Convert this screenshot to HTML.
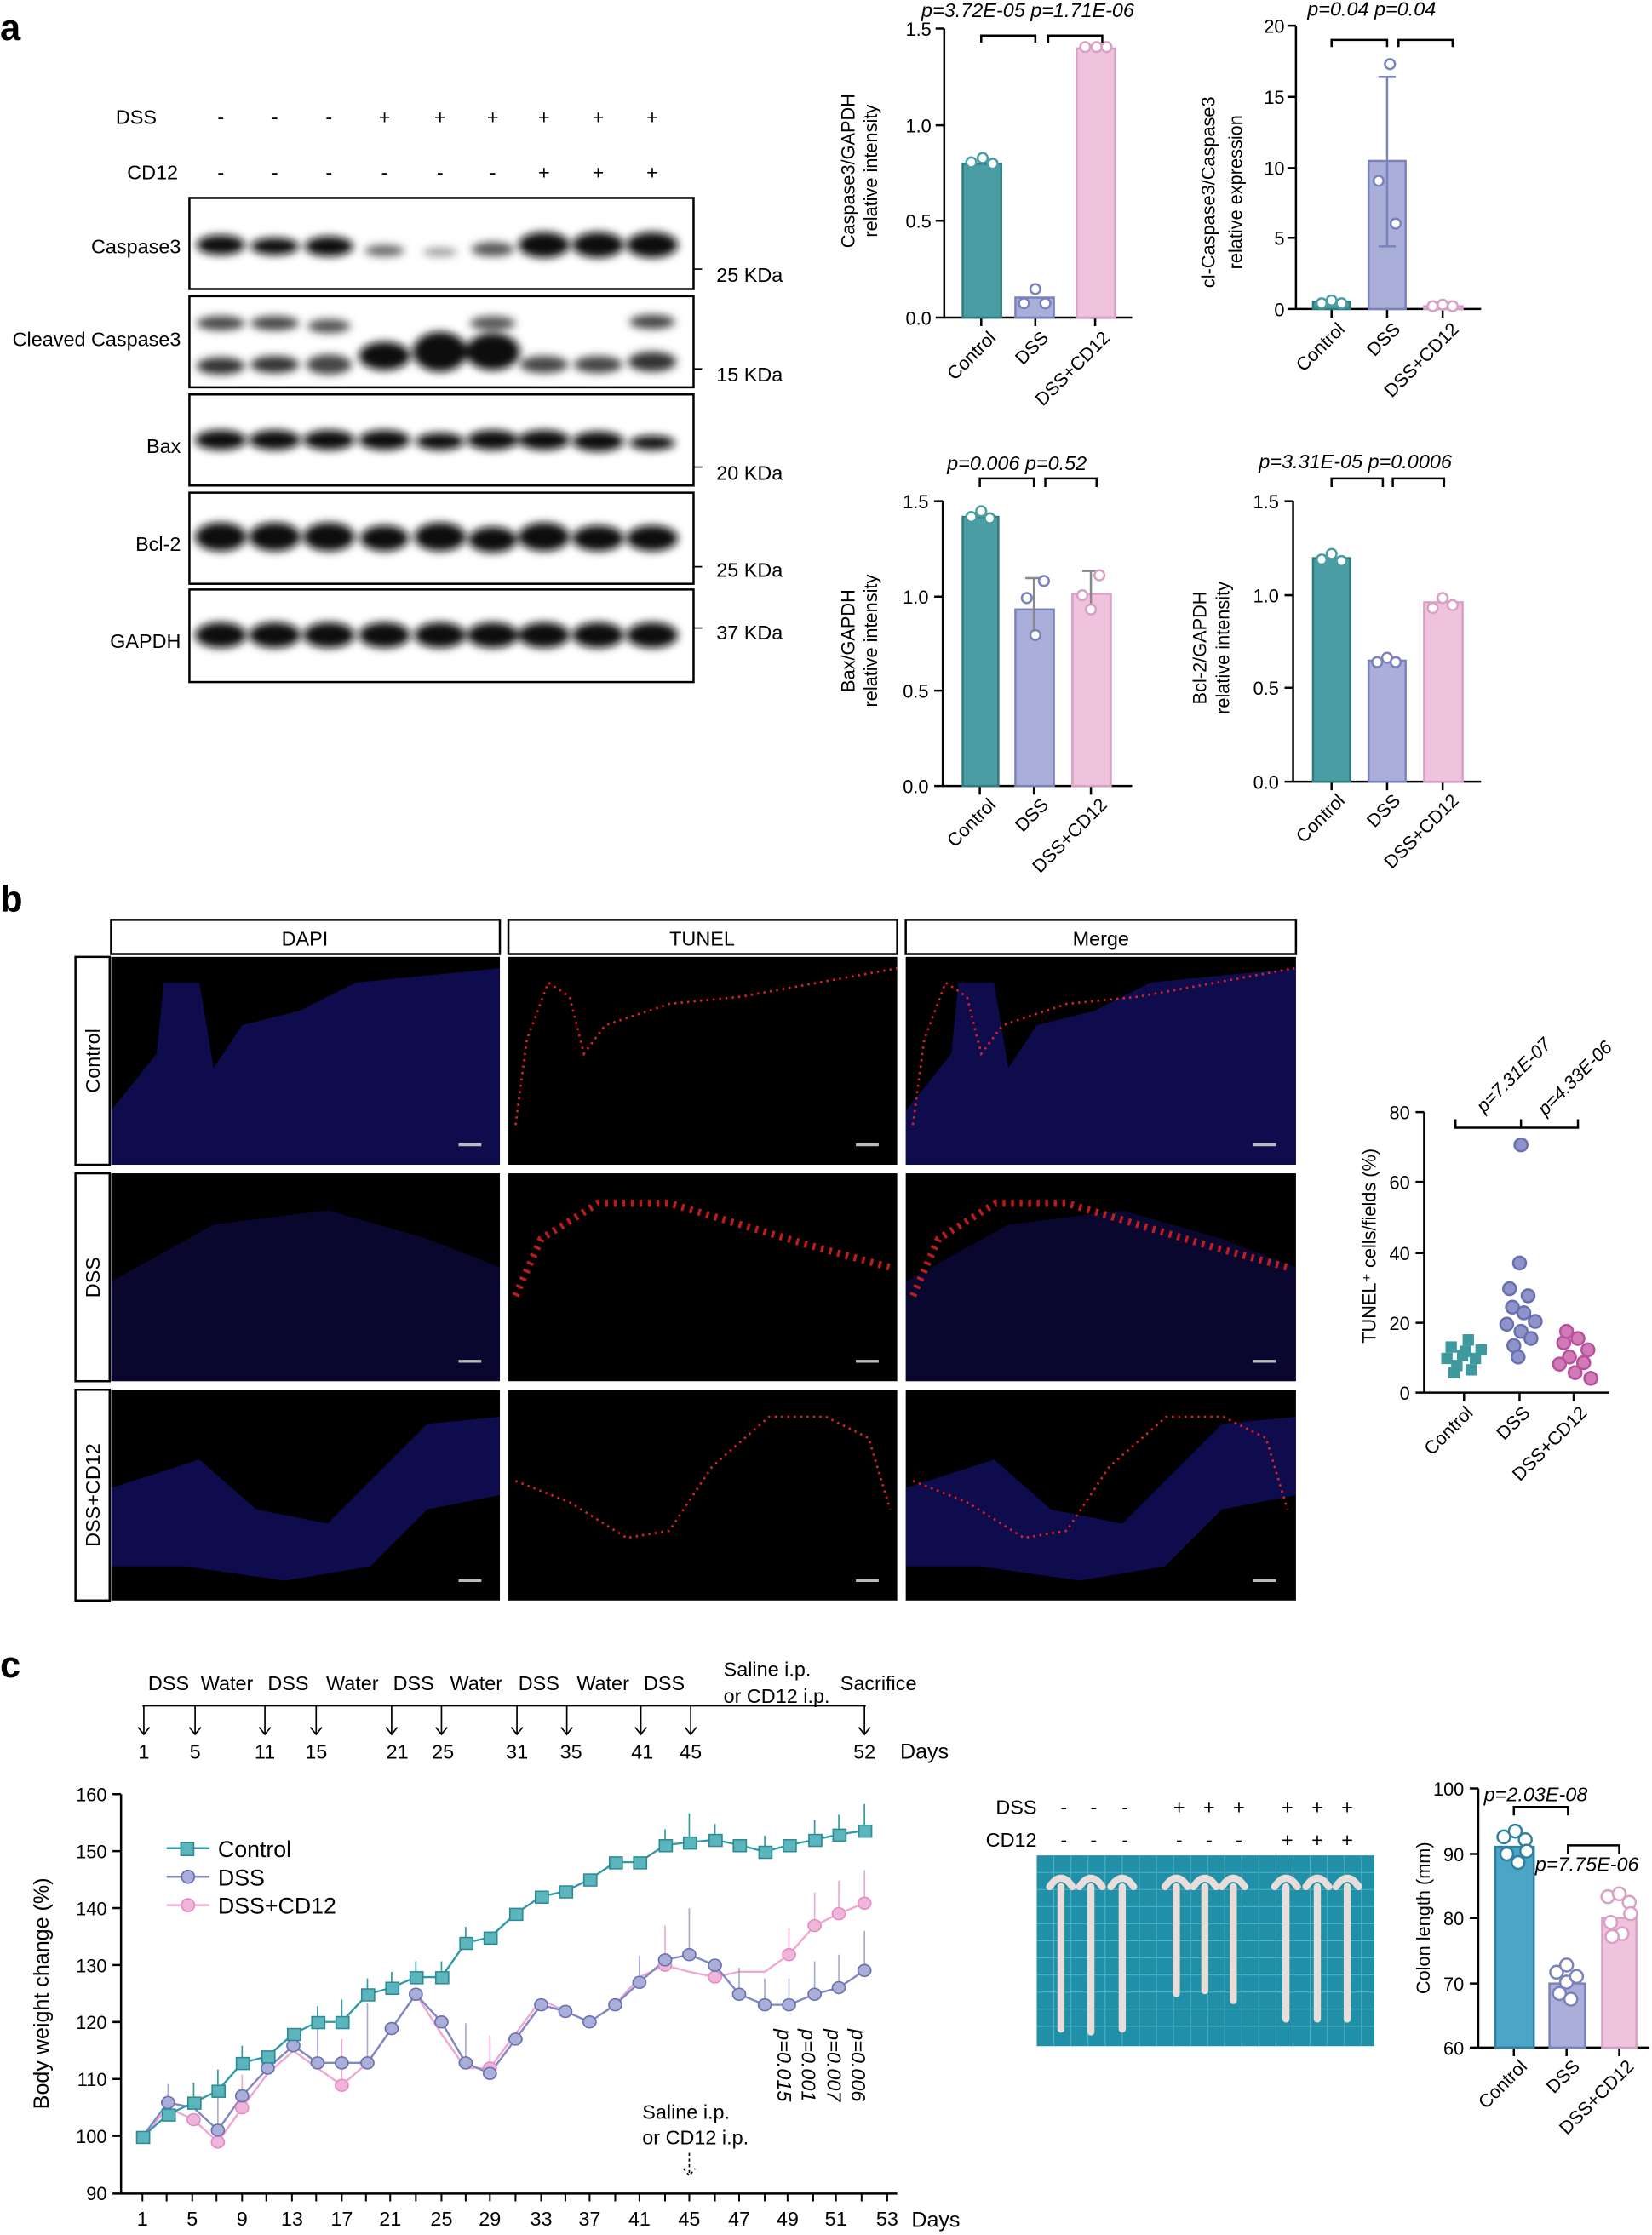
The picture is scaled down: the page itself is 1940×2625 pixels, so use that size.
<!DOCTYPE html><html><head><meta charset="utf-8"><style>body{margin:0;background:#fff}svg{display:block}text{font-family:"Liberation Sans",sans-serif}</style></head><body>
<svg width="1940" height="2625" viewBox="0 0 1160 1569.6" preserveAspectRatio="none" xmlns="http://www.w3.org/2000/svg">
<defs>
<filter id="bl"><feGaussianBlur stdDeviation="3"/></filter>
</defs>
<rect width="1160" height="1570" fill="#fff"/>
<text x="0" y="28" font-size="26" font-weight="bold">a</text>
<text x="0" y="640" font-size="26" font-weight="bold">b</text>
<text x="0" y="1178" font-size="26" font-weight="bold">c</text>
<!-- blot header -->
<g font-size="14" text-anchor="middle">
<text x="110" y="87" text-anchor="end">DSS</text><text x="125" y="126" text-anchor="end">CD12</text>
<text x="155" y="87">-</text><text x="193" y="87">-</text><text x="231" y="87">-</text><text x="270" y="87">+</text><text x="309" y="87">+</text><text x="346" y="87">+</text><text x="382" y="87">+</text><text x="420" y="87">+</text><text x="458" y="87">+</text>
<text x="155" y="126">-</text><text x="193" y="126">-</text><text x="231" y="126">-</text><text x="270" y="126">-</text><text x="309" y="126">-</text><text x="346" y="126">-</text><text x="382" y="126">+</text><text x="420" y="126">+</text><text x="458" y="126">+</text>
</g>
<g fill="none" stroke="#000" stroke-width="1.5">
<rect x="133" y="139" width="354" height="64"/><rect x="133" y="208" width="354" height="64"/><rect x="133" y="277" width="354" height="64"/><rect x="133" y="346" width="354" height="64"/><rect x="133" y="414" width="354" height="65"/>
</g>
<g font-size="14" text-anchor="end">
<text x="127" y="178">Caspase3</text><text x="127" y="243">Cleaved Caspase3</text><text x="127" y="318">Bax</text><text x="127" y="387">Bcl-2</text><text x="127" y="455">GAPDH</text>
</g>
<g font-size="14"><text x="503" y="198">25 KDa</text><text x="503" y="268">15 KDa</text><text x="503" y="337">20 KDa</text><text x="503" y="405">25 KDa</text><text x="503" y="449">37 KDa</text></g>
<g stroke="#000" stroke-width="1"><path d="M487 189h6M487 259h6M487 328h6M487 398h6M487 441h6"/></g>
<g filter="url(#bl)" fill="#111">
<ellipse cx="155" cy="172" rx="17" ry="7"/><ellipse cx="193" cy="173" rx="17" ry="6"/><ellipse cx="231" cy="173" rx="17" ry="7"/><ellipse cx="270" cy="176" rx="14" ry="4" fill="#666"/><ellipse cx="309" cy="177" rx="12" ry="3" fill="#999"/><ellipse cx="346" cy="175" rx="15" ry="5" fill="#555"/><ellipse cx="382" cy="172" rx="18" ry="9"/><ellipse cx="420" cy="172" rx="18" ry="9"/><ellipse cx="458" cy="172" rx="18" ry="9"/>
<ellipse cx="155" cy="227" rx="17" ry="5" fill="#444"/><ellipse cx="193" cy="227" rx="17" ry="5" fill="#444"/><ellipse cx="231" cy="229" rx="15" ry="5" fill="#555"/><ellipse cx="346" cy="227" rx="16" ry="5" fill="#555"/><ellipse cx="458" cy="226" rx="16" ry="5" fill="#444"/>
<ellipse cx="155" cy="257" rx="17" ry="6" fill="#333"/><ellipse cx="193" cy="256" rx="17" ry="6" fill="#333"/><ellipse cx="231" cy="256" rx="16" ry="7" fill="#444"/><ellipse cx="270" cy="250" rx="18" ry="10"/><ellipse cx="309" cy="247" rx="19" ry="14"/><ellipse cx="346" cy="247" rx="19" ry="13"/><ellipse cx="382" cy="256" rx="17" ry="6" fill="#444"/><ellipse cx="420" cy="256" rx="17" ry="6" fill="#444"/><ellipse cx="458" cy="254" rx="17" ry="7" fill="#333"/>
<ellipse cx="155" cy="309" rx="18" ry="7"/><ellipse cx="193" cy="309" rx="18" ry="7"/><ellipse cx="231" cy="309" rx="18" ry="7"/><ellipse cx="270" cy="309" rx="18" ry="7"/><ellipse cx="309" cy="310" rx="17" ry="6"/><ellipse cx="346" cy="309" rx="18" ry="7"/><ellipse cx="382" cy="309" rx="18" ry="7"/><ellipse cx="420" cy="310" rx="18" ry="7"/><ellipse cx="458" cy="311" rx="16" ry="5"/>
<ellipse cx="155" cy="377" rx="18" ry="10"/><ellipse cx="193" cy="377" rx="18" ry="10"/><ellipse cx="231" cy="377" rx="18" ry="10"/><ellipse cx="270" cy="378" rx="17" ry="9"/><ellipse cx="309" cy="377" rx="18" ry="10"/><ellipse cx="346" cy="379" rx="17" ry="9"/><ellipse cx="382" cy="377" rx="18" ry="10"/><ellipse cx="420" cy="378" rx="18" ry="9"/><ellipse cx="458" cy="378" rx="18" ry="9"/>
<ellipse cx="155" cy="446" rx="18" ry="9"/><ellipse cx="193" cy="446" rx="18" ry="9"/><ellipse cx="231" cy="446" rx="18" ry="9"/><ellipse cx="270" cy="446" rx="18" ry="9"/><ellipse cx="309" cy="446" rx="18" ry="9"/><ellipse cx="346" cy="446" rx="18" ry="9"/><ellipse cx="382" cy="446" rx="18" ry="9"/><ellipse cx="420" cy="446" rx="18" ry="9"/><ellipse cx="458" cy="446" rx="18" ry="9"/>
</g>
<!-- bar chart 1 -->
<g font-size="13" stroke-width="1.5">
<g stroke="#000" fill="none"><path d="M663 20V223M657 20h6M657 88h6M657 155h6M657 223h6M663 223H795M689 223v6M727 223v6M769 223v6"/></g>
<g text-anchor="end"><text x="654" y="25">1.5</text><text x="654" y="93">1.0</text><text x="654" y="160">0.5</text><text x="654" y="228">0.0</text></g>
<rect x="676" y="115" width="27" height="108" fill="#4a9ea3" stroke="#2f7c80"/><rect x="713" y="209" width="27" height="14" fill="#a9afd8" stroke="#7a82bd"/><rect x="756" y="34" width="27" height="189" fill="#efc3de" stroke="#d9a0c5"/>
<g fill="#fff" stroke="#4a9ea3"><circle cx="682" cy="114" r="3.5"/><circle cx="690" cy="111" r="3.5"/><circle cx="697" cy="115" r="3.5"/></g>
<g fill="#fff" stroke="#7a82bd"><circle cx="719" cy="213" r="3.5"/><circle cx="727" cy="203" r="3.5"/><circle cx="734" cy="213" r="3.5"/></g>
<g fill="#fff" stroke="#d9a0c5"><circle cx="762" cy="33" r="3.5"/><circle cx="770" cy="33" r="3.5"/><circle cx="777" cy="33" r="3.5"/></g>
<path d="M689 30v-5h38v5M736 30v-5h38v5" stroke="#000" fill="none"/>
<text x="647" y="12" font-style="italic" font-size="14">p=3.72E-05 p=1.71E-06</text>
<text transform="translate(600 120) rotate(-90)" text-anchor="middle">Caspase3/GAPDH</text><text transform="translate(616 120) rotate(-90)" text-anchor="middle">relative intensity</text>
<g text-anchor="end"><text transform="translate(700 238) rotate(-45)">Control</text><text transform="translate(737 238) rotate(-45)">DSS</text><text transform="translate(780 238) rotate(-45)">DSS+CD12</text></g>
</g>
<!-- bar chart 2 -->
<g font-size="13" stroke-width="1.5">
<path d="M910 18V217M904 18h6M904 68h6M904 118h6M904 167h6M904 217h6M910 217H1040M935 217v6M974 217v6M1013 217v6" stroke="#000" fill="none"/>
<g text-anchor="end"><text x="902" y="23">20</text><text x="902" y="73">15</text><text x="902" y="123">10</text><text x="902" y="172">5</text><text x="902" y="222">0</text></g>
<rect x="922" y="212" width="26" height="5" fill="#4a9ea3" stroke="#2f7c80"/><rect x="961" y="113" width="26" height="104" fill="#a9afd8" stroke="#7a82bd"/><rect x="1000" y="215" width="27" height="2" fill="#efc3de" stroke="#d9a0c5"/>
<path d="M974 54v119M968 54h12M968 173h12" stroke="#7a82bd" fill="none"/>
<g fill="#fff" stroke="#4a9ea3"><circle cx="928" cy="213" r="3.5"/><circle cx="935" cy="211" r="3.5"/><circle cx="942" cy="213" r="3.5"/></g>
<g fill="#fff" stroke="#7a82bd"><circle cx="976" cy="45" r="3.5"/><circle cx="968" cy="127" r="3.5"/><circle cx="980" cy="157" r="3.5"/></g>
<g fill="#fff" stroke="#d9a0c5"><circle cx="1006" cy="215" r="3.5"/><circle cx="1013" cy="214" r="3.5"/><circle cx="1020" cy="215" r="3.5"/></g>
<path d="M935 33v-5h39v5M982 33v-5h38v5" stroke="#000" fill="none"/>
<text x="918" y="11" font-style="italic" font-size="14">p=0.04  p=0.04</text>
<text transform="translate(853 135) rotate(-90)" text-anchor="middle">cl-Caspase3/Caspase3</text><text transform="translate(872 135) rotate(-90)" text-anchor="middle">relative expression</text>
<g text-anchor="end"><text transform="translate(945 232) rotate(-45)">Control</text><text transform="translate(984 232) rotate(-45)">DSS</text><text transform="translate(1025 232) rotate(-45)">DSS+CD12</text></g>
</g>
<!-- bar chart 3 -->
<g font-size="13" stroke-width="1.5">
<path d="M662 352V552M656 352h6M656 419h6M656 485h6M656 552h6M662 552H795M688 552v6M726 552v6M766 552v6" stroke="#000" fill="none"/>
<g text-anchor="end"><text x="652" y="357">1.5</text><text x="652" y="424">1.0</text><text x="652" y="490">0.5</text><text x="652" y="557">0.0</text></g>
<rect x="676" y="363" width="25" height="189" fill="#4a9ea3" stroke="#2f7c80"/><rect x="713" y="428" width="27" height="124" fill="#a9afd8" stroke="#7a82bd"/><rect x="753" y="417" width="27" height="135" fill="#efc3de" stroke="#d9a0c5"/>
<path d="M726 406v44M720 406h12M766 401v30M760 401h12" stroke="#888" fill="none"/>
<g fill="#fff" stroke="#4a9ea3"><circle cx="682" cy="363" r="3.5"/><circle cx="689" cy="359" r="3.5"/><circle cx="695" cy="364" r="3.5"/></g>
<g fill="#fff" stroke="#7a82bd"><circle cx="721" cy="420" r="3.5"/><circle cx="727" cy="446" r="3.5"/><circle cx="733" cy="408" r="3.5"/></g>
<g fill="#fff" stroke="#d9a0c5"><circle cx="760" cy="418" r="3.5"/><circle cx="766" cy="428" r="3.5"/><circle cx="772" cy="404" r="3.5"/></g>
<path d="M688 342v-6h38v6M734 342v-6h36v6" stroke="#000" fill="none"/>
<text x="665" y="330" font-style="italic" font-size="14">p=0.006 p=0.52</text>
<text transform="translate(600 450) rotate(-90)" text-anchor="middle">Bax/GAPDH</text><text transform="translate(616 450) rotate(-90)" text-anchor="middle">relative intensity</text>
<g text-anchor="end"><text transform="translate(700 566) rotate(-45)">Control</text><text transform="translate(737 566) rotate(-45)">DSS</text><text transform="translate(778 566) rotate(-45)">DSS+CD12</text></g>
</g>
<!-- bar chart 4 -->
<g font-size="13" stroke-width="1.5">
<path d="M908 352V549M902 352h6M902 418h6M902 483h6M902 549h6M908 549H1040M935 549v6M974 549v6M1013 549v6" stroke="#000" fill="none"/>
<g text-anchor="end"><text x="898" y="357">1.5</text><text x="898" y="423">1.0</text><text x="898" y="488">0.5</text><text x="898" y="554">0.0</text></g>
<rect x="922" y="392" width="26" height="157" fill="#4a9ea3" stroke="#2f7c80"/><rect x="961" y="464" width="26" height="85" fill="#a9afd8" stroke="#7a82bd"/><rect x="1000" y="423" width="27" height="126" fill="#efc3de" stroke="#d9a0c5"/>
<g fill="#fff" stroke="#4a9ea3"><circle cx="928" cy="393" r="3.5"/><circle cx="935" cy="389" r="3.5"/><circle cx="942" cy="394" r="3.5"/></g>
<g fill="#fff" stroke="#7a82bd"><circle cx="967" cy="465" r="3.5"/><circle cx="974" cy="462" r="3.5"/><circle cx="980" cy="465" r="3.5"/></g>
<g fill="#fff" stroke="#d9a0c5"><circle cx="1006" cy="427" r="3.5"/><circle cx="1013" cy="420" r="3.5"/><circle cx="1020" cy="425" r="3.5"/></g>
<path d="M935 342v-6h36v6M978 342v-6h36v6" stroke="#000" fill="none"/>
<text x="884" y="329" font-style="italic" font-size="14">p=3.31E-05 p=0.0006</text>
<text transform="translate(847 455) rotate(-90)" text-anchor="middle">Bcl-2/GAPDH</text><text transform="translate(863 455) rotate(-90)" text-anchor="middle">relative intensity</text>
<g text-anchor="end"><text transform="translate(945 563) rotate(-45)">Control</text><text transform="translate(984 563) rotate(-45)">DSS</text><text transform="translate(1025 563) rotate(-45)">DSS+CD12</text></g>
</g>
<!-- panel b images -->
<g fill="none" stroke="#000" stroke-width="1.5"><rect x="78" y="646" width="273" height="24"/><rect x="357" y="646" width="273" height="24"/><rect x="636" y="646" width="274" height="24"/>
<rect x="53" y="672" width="24" height="146"/><rect x="53" y="824" width="24" height="146"/><rect x="53" y="976" width="24" height="148"/></g>
<g font-size="14" text-anchor="middle"><text x="214" y="664">DAPI</text><text x="493" y="664">TUNEL</text><text x="773" y="664">Merge</text>
<text transform="translate(70 745) rotate(-90)">Control</text><text transform="translate(70 897) rotate(-90)">DSS</text><text transform="translate(70 1050) rotate(-90)">DSS+CD12</text></g>
<g fill="#000"><rect x="78" y="672" width="273" height="146"/><rect x="357" y="672" width="273" height="146"/><rect x="636" y="672" width="274" height="146"/>
<rect x="78" y="824" width="273" height="146"/><rect x="357" y="824" width="273" height="146"/><rect x="636" y="824" width="274" height="146"/>
<rect x="78" y="976" width="273" height="148"/><rect x="357" y="976" width="273" height="148"/><rect x="636" y="976" width="274" height="148"/></g>
<g fill="#1a1580" opacity="0.6">
<path d="M78 818V780L110 740 115 690 140 690 150 750 170 720 210 710 250 690 351 680V818Z"/>
<path d="M636 818V780L668 740 673 690 698 690 708 750 728 720 768 710 808 690 910 680V818Z"/>
<path d="M78 970V900L150 860 230 850 300 870 351 890V970Z" opacity="0.6"/>
<path d="M636 970V900L708 860 788 850 858 870 910 890V970Z" opacity="0.6"/>
<path d="M78 1100L78 1045 140 1025 180 1060 230 1070 270 1030 300 1000 351 995V1050L300 1060 260 1100 200 1110 130 1100Z"/>
<path d="M636 1100L636 1045 698 1025 738 1060 788 1070 828 1030 858 1000 910 995V1050L858 1060 818 1100 758 1110 688 1100Z"/>
</g>
<g stroke="#e02020" stroke-width="1.6" fill="none" stroke-dasharray="1.5 3">
<path d="M362 790L370 730 385 690 400 700 410 740 425 720 470 705 520 700 630 680"/>
<path d="M641 790L649 730 664 690 679 700 689 740 704 720 749 705 799 700 909 680"/>
<path d="M362 1040L400 1055 440 1080 470 1075 500 1030 540 995 580 995 610 1010 625 1060"/>
<path d="M641 1040L679 1055 719 1080 749 1075 779 1030 819 995 859 995 889 1010 904 1060"/>
</g>
<g stroke="#e02020" stroke-width="5" fill="none" stroke-dasharray="2 4" opacity="0.85">
<path d="M362 910L380 870 420 845 470 845 520 860 570 875 625 890"/>
<path d="M641 910L659 870 699 845 749 845 799 860 849 875 904 890"/>
</g>
<g stroke="#bbb" stroke-width="2"><path d="M322 804h16M601 804h16M880 804h16M322 956h16M601 956h16M880 956h16M322 1110h16M601 1110h16M880 1110h16"/></g>
<!-- scatter -->
<g font-size="13" stroke-width="1.5">
<path d="M1000 781V978M994 781h6M994 830h6M994 880h6M994 929h6M994 978h6M1000 978H1130M1028 978v6M1067 978v6M1105 978v6" stroke="#000" fill="none"/>
<g text-anchor="end"><text x="990" y="786">80</text><text x="990" y="835">60</text><text x="990" y="885">40</text><text x="990" y="934">20</text><text x="990" y="983">0</text></g>
<text transform="translate(966 875) rotate(-90)" text-anchor="middle">TUNEL⁺ cells/fields (%)</text>
<g fill="#3f9aa0"><rect x="1015" y="942" width="8" height="8"/><rect x="1025" y="945" width="8" height="8"/><rect x="1032" y="950" width="8" height="8"/><rect x="1019" y="955" width="8" height="8"/><rect x="1029" y="958" width="8" height="8"/><rect x="1023" y="948" width="8" height="8"/><rect x="1036" y="944" width="8" height="8"/><rect x="1017" y="960" width="8" height="8"/><rect x="1027" y="937" width="8" height="8"/><rect x="1012" y="950" width="8" height="8"/></g>
<g fill="#8e93c9" stroke="#6870b0"><circle cx="1068" cy="804" r="4.5"/><circle cx="1067" cy="887" r="4.5"/><circle cx="1060" cy="905" r="4.5"/><circle cx="1073" cy="910" r="4.5"/><circle cx="1062" cy="918" r="4.5"/><circle cx="1070" cy="922" r="4.5"/><circle cx="1078" cy="928" r="4.5"/><circle cx="1058" cy="930" r="4.5"/><circle cx="1068" cy="935" r="4.5"/><circle cx="1063" cy="945" r="4.5"/><circle cx="1075" cy="940" r="4.5"/><circle cx="1066" cy="953" r="4.5"/></g>
<g fill="#d07ab8" stroke="#b8509c"><circle cx="1098" cy="943" r="4.5"/><circle cx="1108" cy="940" r="4.5"/><circle cx="1115" cy="948" r="4.5"/><circle cx="1102" cy="953" r="4.5"/><circle cx="1112" cy="957" r="4.5"/><circle cx="1095" cy="958" r="4.5"/><circle cx="1106" cy="964" r="4.5"/><circle cx="1117" cy="968" r="4.5"/><circle cx="1100" cy="935" r="4.5"/></g>
<path d="M1022 786v6h46v-6M1068 786v6h40v-6" stroke="#000" fill="none"/>
<text transform="translate(1042 782) rotate(-45)" font-style="italic" font-size="13">p=7.31E-07</text>
<text transform="translate(1085 784) rotate(-45)" font-style="italic" font-size="13">p=4.33E-06</text>
<g text-anchor="end"><text transform="translate(1035 993) rotate(-45)">Control</text><text transform="translate(1075 993) rotate(-45)">DSS</text><text transform="translate(1115 993) rotate(-45)">DSS+CD12</text></g>
</g>
<!-- panel c timeline -->
<g font-size="14">
<path d="M100 1198H608" stroke="#000" stroke-width="1"/>
<g stroke="#000" fill="none"><path d="M101 1198v20M97 1213l4 5 4-5M137 1198v20M133 1213l4 5 4-5M186 1198v20M182 1213l4 5 4-5M222 1198v20M218 1213l4 5 4-5M275 1198v20M271 1213l4 5 4-5M310 1198v20M306 1213l4 5 4-5M363 1198v20M359 1213l4 5 4-5M398 1198v20M394 1213l4 5 4-5M450 1198v20M446 1213l4 5 4-5M485 1198v20M481 1213l4 5 4-5M607 1198v20M603 1213l4 5 4-5"/></g>
<g><text x="104" y="1187">DSS</text><text x="141" y="1187">Water</text><text x="188" y="1187">DSS</text><text x="229" y="1187">Water</text><text x="276" y="1187">DSS</text><text x="316" y="1187">Water</text><text x="364" y="1187">DSS</text><text x="405" y="1187">Water</text><text x="452" y="1187">DSS</text></g>
<text x="508" y="1177">Saline i.p.</text><text x="508" y="1196">or CD12 i.p.</text><text x="590" y="1187">Sacrifice</text>
<g text-anchor="middle"><text x="101" y="1235">1</text><text x="137" y="1235">5</text><text x="186" y="1235">11</text><text x="222" y="1235">15</text><text x="279" y="1235">21</text><text x="311" y="1235">25</text><text x="363" y="1235">31</text><text x="401" y="1235">35</text><text x="451" y="1235">41</text><text x="485" y="1235">45</text><text x="607" y="1235">52</text></g>
<text x="632" y="1235" font-size="15">Days</text>
</g>
<!-- line chart -->
<g font-size="13">
<path d="M85 1260V1540.5M79 1260h6M79 1300h6M79 1340h6M79 1380h6M79 1420h6M79 1460h6M79 1500h6M79 1540.5h6M85 1540.5H630" stroke="#000" stroke-width="1.5" fill="none"/>
<path d="M100 1540v6M117 1540v6M135 1540v6M152 1540v6M170 1540v6M187 1540v6M205 1540v6M222 1540v6M240 1540v6M257 1540v6M274 1540v6M292 1540v6M310 1540v6M327 1540v6M344 1540v6M362 1540v6M380 1540v6M397 1540v6M414 1540v6M432 1540v6M449 1540v6M467 1540v6M484 1540v6M502 1540v6M519 1540v6M537 1540v6M553 1540v6M571 1540v6M587 1540v6M605 1540v6M623 1540v6" stroke="#000" stroke-width="1.2"/>
<g text-anchor="end"><text x="75" y="1265">160</text><text x="75" y="1305">150</text><text x="75" y="1345">140</text><text x="75" y="1385">130</text><text x="75" y="1425">120</text><text x="75" y="1465">110</text><text x="75" y="1505">100</text><text x="75" y="1545">90</text></g>
<text transform="translate(34 1400) rotate(-90)" text-anchor="middle" font-size="15">Body weight change (%)</text>
<g text-anchor="middle" font-size="14"><text x="100" y="1563">1</text><text x="135" y="1563">5</text><text x="170" y="1563">9</text><text x="205" y="1563">13</text><text x="240" y="1563">17</text><text x="274" y="1563">21</text><text x="310" y="1563">25</text><text x="344" y="1563">29</text><text x="380" y="1563">33</text><text x="414" y="1563">37</text><text x="449" y="1563">41</text><text x="484" y="1563">45</text><text x="519" y="1563">47</text><text x="553" y="1563">49</text><text x="587" y="1563">51</text><text x="623" y="1563">53</text></g>
<text x="640" y="1564" font-size="15">Days</text>
<g transform="matrix(1 0 0 0.9272 0 91.3)">
<g fill="none" stroke-width="1.5">
<polyline stroke="#f0a8d3" points="100,1520 118,1498 136,1507 153,1524 170,1498 188,1472 206,1455 223,1468 240,1481 258,1464 275,1438 292,1412 310,1442 327,1468 344,1468 362,1442 380,1416 397,1425 414,1433 432,1420 449,1399 467,1390 484,1395 502,1399 519,1395 537,1395 554,1382 572,1360 589,1351 607,1343"/>
<polyline stroke="#8087c4" points="100,1520 118,1494 136,1498 153,1515 170,1489 188,1468 206,1451 223,1464 240,1464 258,1464 275,1438 292,1412 310,1433 327,1464 344,1472 362,1446 380,1420 397,1425 414,1433 432,1420 449,1403 467,1386 484,1382 502,1390 519,1412 537,1420 554,1420 572,1412 589,1407 607,1394"/>
<polyline stroke="#2f9aa6" points="100,1520 118,1503 136,1494 153,1485 170,1464 188,1459 206,1442 223,1433 240,1433 258,1412 275,1407 292,1399 310,1399 327,1373 344,1369 362,1351 380,1338 397,1334 414,1325 432,1312 449,1312 467,1299 484,1297 502,1295 519,1299 537,1304 554,1299 572,1295 589,1291 607,1288"/>
</g>
<g stroke="#8087c4" fill="none" opacity="0.7"><path d="M118 1494v-14M153 1515v-35M223 1464v-40M258 1464v-45M327 1464v-30M344 1472v-25M449 1403v-20M484 1382v-35M519 1412v-20M537 1420v-20M554 1420v-20M572 1412v-25M589 1407v-25M607 1394v-30"/></g>
<g stroke="#f0a8d3" fill="none"><path d="M170 1498v-25M240 1481v-35M344 1468v-25M467 1390v-30M554 1382v-20M572 1360v-25M589 1351v-25M607 1343v-25"/></g>
<g stroke="#2f9aa6" fill="none"><path d="M118 1503v-14M136 1494v-15M153 1485v-16M170 1464v-13M223 1433v-12M240 1433v-17M258 1412v-12M275 1407v-12M292 1399v-12M310 1399v-12M327 1373v-12M467 1299v-12M484 1297v-22M502 1295v-12M537 1304v-12M572 1295v-15M589 1291v-15M607 1288v-20"/></g>
<g fill="#f0b5da" stroke="#e38cc0"><circle cx="136" cy="1507" r="4.5"/><circle cx="153" cy="1524" r="4.5"/><circle cx="170" cy="1498" r="4.5"/><circle cx="240" cy="1481" r="4.5"/><circle cx="344" cy="1468" r="4.5"/><circle cx="554" cy="1382" r="4.5"/><circle cx="572" cy="1360" r="4.5"/><circle cx="589" cy="1351" r="4.5"/><circle cx="607" cy="1343" r="4.5"/><circle cx="502" cy="1399" r="4.5"/><circle cx="467" cy="1390" r="4.5"/></g>
<g fill="#a9afd8" stroke="#6870b0"><circle cx="118" cy="1494" r="4.5"/><circle cx="153" cy="1515" r="4.5"/><circle cx="170" cy="1489" r="4.5"/><circle cx="188" cy="1468" r="4.5"/><circle cx="206" cy="1451" r="4.5"/><circle cx="223" cy="1464" r="4.5"/><circle cx="240" cy="1464" r="4.5"/><circle cx="258" cy="1464" r="4.5"/><circle cx="275" cy="1438" r="4.5"/><circle cx="292" cy="1412" r="4.5"/><circle cx="310" cy="1433" r="4.5"/><circle cx="327" cy="1464" r="4.5"/><circle cx="344" cy="1472" r="4.5"/><circle cx="362" cy="1446" r="4.5"/><circle cx="380" cy="1420" r="4.5"/><circle cx="397" cy="1425" r="4.5"/><circle cx="414" cy="1433" r="4.5"/><circle cx="432" cy="1420" r="4.5"/><circle cx="449" cy="1403" r="4.5"/><circle cx="467" cy="1386" r="4.5"/><circle cx="484" cy="1382" r="4.5"/><circle cx="502" cy="1390" r="4.5"/><circle cx="519" cy="1412" r="4.5"/><circle cx="537" cy="1420" r="4.5"/><circle cx="554" cy="1420" r="4.5"/><circle cx="572" cy="1412" r="4.5"/><circle cx="589" cy="1407" r="4.5"/><circle cx="607" cy="1394" r="4.5"/></g>
<g fill="#5bb5bd" stroke="#2f8a94"><rect x="96" y="1516" width="9" height="9"/><rect x="114" y="1499" width="9" height="9"/><rect x="132" y="1490" width="9" height="9"/><rect x="149" y="1481" width="9" height="9"/><rect x="166" y="1460" width="9" height="9"/><rect x="184" y="1455" width="9" height="9"/><rect x="202" y="1438" width="9" height="9"/><rect x="219" y="1429" width="9" height="9"/><rect x="236" y="1429" width="9" height="9"/><rect x="254" y="1408" width="9" height="9"/><rect x="271" y="1403" width="9" height="9"/><rect x="288" y="1395" width="9" height="9"/><rect x="306" y="1395" width="9" height="9"/><rect x="323" y="1369" width="9" height="9"/><rect x="340" y="1365" width="9" height="9"/><rect x="358" y="1347" width="9" height="9"/><rect x="376" y="1334" width="9" height="9"/><rect x="393" y="1330" width="9" height="9"/><rect x="410" y="1321" width="9" height="9"/><rect x="428" y="1308" width="9" height="9"/><rect x="445" y="1308" width="9" height="9"/><rect x="463" y="1295" width="9" height="9"/><rect x="480" y="1293" width="9" height="9"/><rect x="498" y="1291" width="9" height="9"/><rect x="515" y="1295" width="9" height="9"/><rect x="533" y="1300" width="9" height="9"/><rect x="550" y="1295" width="9" height="9"/><rect x="568" y="1291" width="9" height="9"/><rect x="585" y="1287" width="9" height="9"/><rect x="603" y="1284" width="9" height="9"/></g>
</g>
<g font-size="16"><path d="M117 1298h30" stroke="#2f9aa6" stroke-width="1.5"/><rect x="127" y="1294" width="9" height="9" fill="#5bb5bd" stroke="#2f8a94"/><text x="153" y="1304">Control</text>
<path d="M117 1318h30" stroke="#8087c4" stroke-width="1.5"/><circle cx="132" cy="1318" r="4.5" fill="#a9afd8" stroke="#6870b0"/><text x="153" y="1324">DSS</text>
<path d="M117 1338h30" stroke="#f0a8d3" stroke-width="1.5"/><circle cx="132" cy="1338" r="4.5" fill="#f0b5da" stroke="#e38cc0"/><text x="153" y="1344">DSS+CD12</text></g>
<g font-size="14" font-style="italic"><text transform="translate(546 1425) rotate(90)">p=0.015</text><text transform="translate(563 1425) rotate(90)">p=0.001</text><text transform="translate(581 1425) rotate(90)">p=0.007</text><text transform="translate(598 1425) rotate(90)">p=0.006</text></g>
<text x="451" y="1488" font-size="14">Saline i.p.</text><text x="451" y="1506" font-size="14">or CD12 i.p.</text>
<path d="M484 1512v15M480 1523l4 5 4-5" stroke="#000" stroke-dasharray="2 2" fill="none"/>
</g>
<!-- colon photo -->
<g font-size="14" text-anchor="middle"><text x="728" y="1274" text-anchor="end">DSS</text><text x="728" y="1297" text-anchor="end">CD12</text>
<text x="747" y="1274">-</text><text x="768" y="1274">-</text><text x="790" y="1274">-</text><text x="828" y="1274">+</text><text x="849" y="1274">+</text><text x="870" y="1274">+</text><text x="904" y="1274">+</text><text x="925" y="1274">+</text><text x="946" y="1274">+</text>
<text x="747" y="1297">-</text><text x="768" y="1297">-</text><text x="790" y="1297">-</text><text x="828" y="1297">-</text><text x="849" y="1297">-</text><text x="870" y="1297">-</text><text x="904" y="1297">+</text><text x="925" y="1297">+</text><text x="946" y="1297">+</text></g>
<rect x="728" y="1303" width="237" height="134" fill="#1f90a8"/>
<g stroke="#6cc0d0" stroke-width="0.6" opacity="0.7"><path d="M740 1303v134M752 1303v134M764 1303v134M776 1303v134M788 1303v134M800 1303v134M812 1303v134M824 1303v134M836 1303v134M848 1303v134M860 1303v134M872 1303v134M884 1303v134M896 1303v134M908 1303v134M920 1303v134M932 1303v134M944 1303v134M956 1303v134M728 1315h237M728 1327h237M728 1339h237M728 1351h237M728 1363h237M728 1375h237M728 1387h237M728 1399h237M728 1411h237M728 1423h237"/></g>
<g stroke="#e8ddd8" stroke-width="5" fill="none" stroke-linecap="round"><path d="M745 1325V1425M766 1325V1427M788 1325V1425M826 1325V1400M846 1325V1398M866 1325V1405M903 1325V1418M925 1325V1418M946 1325V1418"/>
<path d="M737 1325q8-12 16 0M758 1325q8-12 16 0M780 1325q8-12 16 0M818 1325q8-12 16 0M838 1325q8-12 16 0M858 1325q8-12 16 0M895 1325q8-12 16 0M917 1325q8-12 16 0M938 1325q8-12 16 0"/></g>
<!-- colon bar -->
<g font-size="13" stroke-width="1.5">
<path d="M1038 1256V1438M1032 1256h6M1032 1302h6M1032 1347h6M1032 1393h6M1032 1438h6M1038 1438H1158M1063 1438v6M1100 1438v6M1137 1438v6" stroke="#000" fill="none"/>
<g text-anchor="end"><text x="1028" y="1261">100</text><text x="1028" y="1307">90</text><text x="1028" y="1352">80</text><text x="1028" y="1398">70</text><text x="1028" y="1443">60</text></g>
<text transform="translate(1004 1347) rotate(-90)" text-anchor="middle">Colon length (mm)</text>
<rect x="1050" y="1297" width="27" height="141" fill="#4aa5c7" stroke="#2f80a0"/><rect x="1088" y="1393" width="25" height="45" fill="#a9afd8" stroke="#7a82bd"/><rect x="1125" y="1347" width="24" height="91" fill="#efc3de" stroke="#d9a0c5"/>
<g fill="#fff" stroke="#2f80a0"><circle cx="1056" cy="1290" r="4.5"/><circle cx="1064" cy="1286" r="4.5"/><circle cx="1071" cy="1292" r="4.5"/><circle cx="1058" cy="1302" r="4.5"/><circle cx="1066" cy="1308" r="4.5"/><circle cx="1072" cy="1300" r="4.5"/></g>
<g fill="#fff" stroke="#7a82bd"><circle cx="1093" cy="1385" r="4.5"/><circle cx="1100" cy="1392" r="4.5"/><circle cx="1107" cy="1388" r="4.5"/><circle cx="1095" cy="1400" r="4.5"/><circle cx="1103" cy="1404" r="4.5"/><circle cx="1100" cy="1380" r="4.5"/></g>
<g fill="#fff" stroke="#d9a0c5"><circle cx="1129" cy="1332" r="4.5"/><circle cx="1137" cy="1330" r="4.5"/><circle cx="1144" cy="1336" r="4.5"/><circle cx="1131" cy="1350" r="4.5"/><circle cx="1139" cy="1358" r="4.5"/><circle cx="1145" cy="1344" r="4.5"/><circle cx="1132" cy="1360" r="4.5"/></g>
<path d="M1063 1275v-6h38v6M1101 1302v-6h36v6" stroke="#000" fill="none"/>
<text x="1042" y="1265" font-style="italic" font-size="14">p=2.03E-08</text>
<text x="1078" y="1314" font-style="italic" font-size="14">p=7.75E-06</text>
<g text-anchor="end"><text transform="translate(1073 1452) rotate(-45)">Control</text><text transform="translate(1110 1452) rotate(-45)">DSS</text><text transform="translate(1148 1452) rotate(-45)">DSS+CD12</text></g>
</g>
</svg>
</body></html>
